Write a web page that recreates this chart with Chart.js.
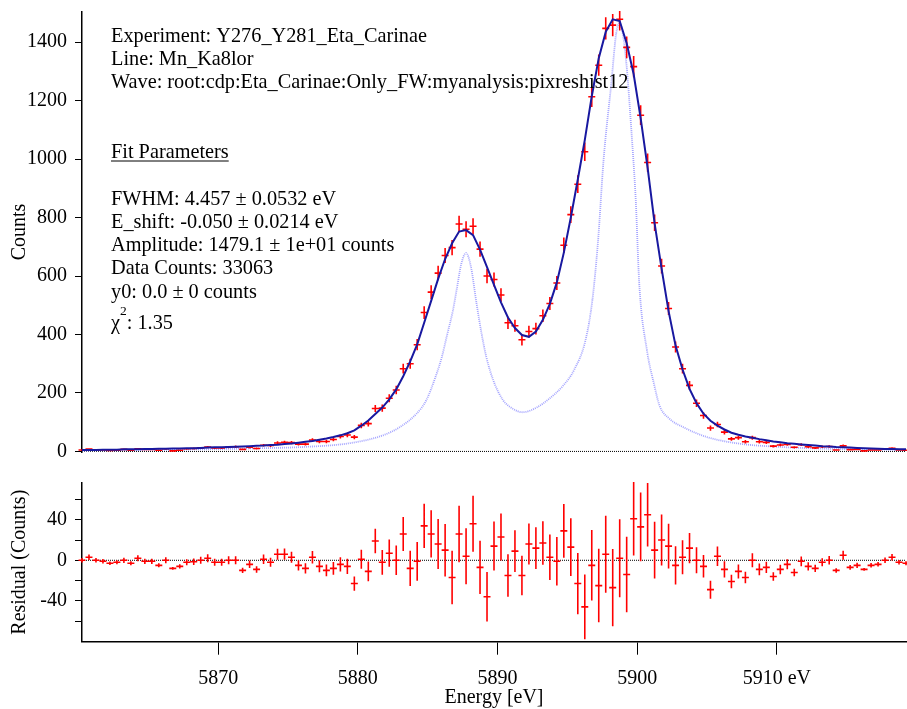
<!DOCTYPE html>
<html>
<head>
<meta charset="utf-8">
<script src="https://cdn.jsdelivr.net/npm/chart.js@4.4.1/dist/chart.umd.min.js"></script>
<style>
  html, body { margin: 0; padding: 0; background: #fff; }
  #wrap { position: relative; width: 907px; height: 709px; }
  #grafikUtama { position: absolute; left: 0; top: 0; }
  #grafikResidu { position: absolute; left: 0; top: 470px; }
</style>
</head>
<body>
<div id="wrap">
  <canvas id="grafikUtama" width="907" height="470"></canvas>
  <canvas id="grafikResidu" width="907" height="239"></canvas>
</div>
<script>
const energies = [
  5860.25, 5860.75, 5861.25, 5861.75, 5862.25, 5862.75, 5863.25, 5863.75, 5864.25, 5864.75,
  5865.25, 5865.75, 5866.25, 5866.75, 5867.25, 5867.75, 5868.25, 5868.75, 5869.25, 5869.75,
  5870.25, 5870.75, 5871.25, 5871.75, 5872.25, 5872.75, 5873.25, 5873.75, 5874.25, 5874.75,
  5875.25, 5875.75, 5876.25, 5876.75, 5877.25, 5877.75, 5878.25, 5878.75, 5879.25, 5879.75,
  5880.25, 5880.75, 5881.25, 5881.75, 5882.25, 5882.75, 5883.25, 5883.75, 5884.25, 5884.75,
  5885.25, 5885.75, 5886.25, 5886.75, 5887.25, 5887.75, 5888.25, 5888.75, 5889.25, 5889.75,
  5890.25, 5890.75, 5891.25, 5891.75, 5892.25, 5892.75, 5893.25, 5893.75, 5894.25, 5894.75,
  5895.25, 5895.75, 5896.25, 5896.75, 5897.25, 5897.75, 5898.25, 5898.75, 5899.25, 5899.75,
  5900.25, 5900.75, 5901.25, 5901.75, 5902.25, 5902.75, 5903.25, 5903.75, 5904.25, 5904.75,
  5905.25, 5905.75, 5906.25, 5906.75, 5907.25, 5907.75, 5908.25, 5908.75, 5909.25, 5909.75,
  5910.25, 5910.75, 5911.25, 5911.75, 5912.25, 5912.75, 5913.25, 5913.75, 5914.25, 5914.75,
  5915.25, 5915.75, 5916.25, 5916.75, 5917.25, 5917.75, 5918.25, 5918.75, 5919.25,
];
const counts = [
  5, 8, 5, 5, 3, 4, 7, 4, 9, 7,
  7, 4, 9, 2, 4, 9, 10, 12, 15, 12,
  12, 15, 16, 7, 14, 10, 21, 20, 29, 31,
  30, 25, 25, 39, 34, 34, 41, 51, 56, 49,
  89, 95, 147, 148, 182, 210, 283, 300, 365, 475,
  545, 610, 670, 697, 778, 760, 770, 692, 600, 588,
  535, 440, 430, 382, 410, 420, 464, 506, 576, 705,
  810, 914, 1025, 1213, 1321, 1447, 1458, 1478, 1382, 1316,
  1150, 988, 782, 634, 489, 357, 283, 226, 165, 123,
  80, 92, 66, 43, 47, 33, 47, 33, 31, 18,
  22, 24, 14, 23, 16, 12, 16, 17, 5, 19,
  6, 7, 2, 5, 5, 8, 11, 5, 4,
];
const countErrors = [
  2.2, 2.8, 2.2, 2.2, 1.7, 2, 2.6, 2, 3, 2.6,
  2.6, 2, 3, 1.4, 2, 3, 3.2, 3.5, 3.9, 3.5,
  3.5, 3.9, 4, 2.6, 3.7, 3.2, 4.6, 4.5, 5.4, 5.6,
  5.5, 5, 5, 6.2, 5.8, 5.8, 6.4, 7.1, 7.5, 7,
  9.4, 9.7, 12.1, 12.2, 13.5, 14.5, 16.8, 17.3, 19.1, 21.8,
  23.3, 24.7, 25.9, 26.4, 27.9, 27.6, 27.7, 26.3, 24.5, 24.2,
  23.1, 21, 20.7, 19.5, 20.2, 20.5, 21.5, 22.5, 24, 26.6,
  28.5, 30.2, 32, 34.8, 36.3, 38, 38.2, 38.4, 37.2, 36.3,
  33.9, 31.4, 28, 25.2, 22.1, 18.9, 16.8, 15, 12.8, 11.1,
  8.9, 9.6, 8.1, 6.6, 6.9, 5.7, 6.9, 5.7, 5.6, 4.2,
  4.7, 4.9, 3.7, 4.8, 4, 3.5, 4, 4.1, 2.2, 4.4,
  2.4, 2.6, 1.4, 2.2, 2.2, 2.8, 3.3, 2.2, 2,
];
const fitCounts = [
  5, 5, 5, 6, 6, 6, 7, 7, 7, 8,
  8, 9, 9, 10, 10, 11, 11, 12, 13, 14,
  14, 15, 16, 17, 18, 19, 20, 22, 23, 25,
  27, 30, 33, 36, 40, 44, 49, 55, 62, 72,
  88, 106, 128, 150, 178, 212, 257, 308, 366, 440,
  515, 590, 658, 712, 752, 757, 740, 690, 630, 570,
  510, 458, 422, 398, 392, 410, 450, 505, 578, 680,
  800, 930, 1065, 1215, 1345, 1435, 1478, 1472, 1396, 1290,
  1140, 970, 780, 625, 480, 362, 280, 214, 165, 129,
  105, 88, 75, 64, 57, 51, 47, 42, 38, 34,
  31, 28, 26, 24, 22, 20, 18, 17, 15, 14,
  13, 12, 11, 10, 9, 8, 8, 7, 7,
];
const residuals = [
  0, 3, 0, -1, -3, -2, 0, -3, 2, -1,
  -1, -5, 0, -8, -6, -2, -1.5, 0, 2, -2,
  -2, 0, 0, -10, -4, -9, 1, -2, 6, 6,
  3, -5, -8, 3, -6, -10, -8, -4, -6, -23,
  1, -11, 19, -2, 7, 0, 26, -8, -1, 34,
  26, 16, 10, -17, 26, 4, 36, -7, -36, 14,
  23, -15, 9, -15, 16, 12, 17, 3, -1, 29,
  13, -23, -46, -5, -25, 6, -27, 2, -14, 41,
  33, 45, 10, 20, 14, -5, 3, 12, 0, -6,
  -29, 4, -9, -21, -11, -17, 0, -9, -7, -16,
  -9, -4, -12, -1, -6, -8, -2, 0, -10, 5,
  -7, -5, -9, -5, -4, 0, 3, -2, -3,
];
const intrinsicEnergies = [
  5860.25, 5865, 5870, 5873, 5876, 5879.4, 5881.8, 5883.0, 5884.2, 5884.9,
  5885.6, 5886.0, 5886.4, 5886.8, 5887.1, 5887.4, 5887.75, 5888.1, 5888.5, 5888.86,
  5889.2, 5889.7, 5890.4, 5891.1, 5891.8, 5892.8, 5893.7, 5894.7, 5895.5, 5896.3,
  5896.8, 5897.2, 5897.6, 5898.15, 5898.5, 5898.75, 5899.0, 5899.25, 5899.6, 5899.9,
  5900.15, 5900.7, 5901.2, 5901.6, 5902.3, 5903.3, 5905.0, 5907.4, 5910, 5913,
  5916, 5919.25,
];
const intrinsicCounts = [
  3, 5, 8, 11, 15, 28, 55, 83, 129, 175,
  260, 320, 400, 480, 560, 640, 679, 631, 506, 403,
  323, 243, 175, 146, 134, 150, 180, 225, 280, 380,
  520, 720, 1000, 1259, 1430, 1466, 1420, 1316, 1088, 859,
  574, 346, 232, 157, 112, 83, 49, 26, 16, 10,
  7, 5,
];
const countTicks = [0, 200, 400, 600, 800, 1000, 1200, 1400];
const residualTicks = [-60, -40, -20, 0, 20, 40, 60];
const residualLabelled = [-40, 0, 40];
const energyTicks = [5870, 5880, 5890, 5900, 5910];
const energyTickLabels = ["5870", "5880", "5890", "5900", "5910 eV"];

const noteLines = [
  "Experiment: Y276_Y281_Eta_Carinae",
  "Line: Mn_Ka8lor",
  "Wave: root:cdp:Eta_Carinae:Only_FW:myanalysis:pixreshist12",
  "Fit Parameters",
  "FWHM: 4.457 \u00b1 0.0532 eV",
  "E_shift: -0.050 \u00b1 0.0214 eV",
  "Amplitude: 1479.1 \u00b1 1e+01 counts",
  "Data Counts: 33063",
  "y0: 0.0 \u00b1 0 counts",
];
const chiLabel = "\u03c7";
const chiValue = ": 1.35";

const X_MIN = 5860.25;
const X_MAX = 5919.25;
const SERIF = '"Liberation Serif", "Times New Roman", serif';

function toPoints(xs, ys) {
  return xs.map((x, i) => ({ x, y: ys[i] }));
}

// draws the red "+" marks with vertical error bars
const crossPlugin = {
  id: "crosses",
  afterDatasetDraw(chart, args) {
    const ds = chart.data.datasets[args.index];
    if (!ds.errors) return;
    const xs = chart.scales.x;
    const ys = chart.scales.y;
    const area = chart.chartArea;
    const ctx = chart.ctx;
    ctx.save();
    ctx.beginPath();
    ctx.rect(area.left - 4, area.top - 1, area.right - area.left + 8, area.bottom - area.top + 2);
    ctx.clip();
    ctx.strokeStyle = ds.borderColor;
    ctx.lineWidth = 1.6;
    ctx.beginPath();
    ds.data.forEach((p, i) => {
      const px = xs.getPixelForValue(p.x);
      const py = ys.getPixelForValue(p.y);
      const e = ds.errors[i];
      ctx.moveTo(px, ys.getPixelForValue(p.y - e));
      ctx.lineTo(px, ys.getPixelForValue(p.y + e));
      ctx.moveTo(xs.getPixelForValue(p.x - ds.xError), py);
      ctx.lineTo(xs.getPixelForValue(p.x + ds.xError), py);
    });
    ctx.stroke();
    ctx.restore();
  },
};

const notePlugin = {
  id: "notes",
  afterDraw(chart) {
    const ctx = chart.ctx;
    const left = 111;
    const baselines = [41.5, 65, 88, 158, 205, 228, 251, 274, 297.5];
    ctx.save();
    ctx.fillStyle = "#000";
    ctx.strokeStyle = "#000";
    ctx.font = "20.3px " + SERIF;
    ctx.textBaseline = "alphabetic";
    noteLines.forEach((t, i) => ctx.fillText(t, left, baselines[i]));
    // underline "Fit Parameters"
    const w = ctx.measureText(noteLines[3]).width;
    ctx.lineWidth = 1;
    ctx.beginPath();
    ctx.moveTo(left, 161);
    ctx.lineTo(left + w, 161);
    ctx.stroke();
    // chi squared
    const chiW = ctx.measureText(chiLabel).width;
    ctx.fillText(chiLabel, left, 329);
    ctx.font = "13.5px " + SERIF;
    ctx.fillText("2", left + chiW, 315);
    const twoW = ctx.measureText("2").width;
    ctx.font = "20.3px " + SERIF;
    ctx.fillText(chiValue, left + chiW + twoW, 329);
    ctx.restore();
  },
};

// keep the plot areas exactly where layout padding puts them
function fixWidth(scale) {
  scale.width = 82;
  scale.paddingTop = 0;
  scale.paddingBottom = 0;
}

const tickFont = { family: SERIF, size: 20 };
const titleFont = { family: SERIF, size: 20, lineHeight: 1.1 };

(function () {
  const canvas = document.querySelector("#grafikUtama");
  new Chart(canvas, {
    type: "line",
    data: {
      datasets: [
        {
          label: "Fit",
          data: toPoints(energies, fitCounts),
          borderColor: "#1818a0",
          borderWidth: 2,
          pointRadius: 0,
          tension: 0,
        },
        {
          label: "Data",
          data: toPoints(energies, counts),
          errors: countErrors,
          xError: 0.25,
          borderColor: "#ff0000",
          showLine: false,
          pointRadius: 0,
        },
        {
          label: "Intrinsic",
          data: toPoints(intrinsicEnergies, intrinsicCounts),
          borderColor: "#a4a4ff",
          borderWidth: 1.8,
          borderDash: [1, 1],
          pointRadius: 0,
          cubicInterpolationMode: "monotone",
        },
        {
          label: "Zero",
          data: [{ x: X_MIN, y: 0 }, { x: X_MAX, y: 0 }],
          borderColor: "#000",
          borderWidth: 1,
          borderDash: [1, 1],
          pointRadius: 0,
        },
      ],
    },
    options: {
      responsive: false,
      animation: false,
      layout: { padding: { top: 12, bottom: 18, left: 0, right: 1 } },
      plugins: { legend: { display: false }, tooltip: { enabled: false } },
      scales: {
        x: { type: "linear", min: X_MIN, max: X_MAX, display: false },
        y: {
          type: "linear",
          min: -2,
          max: 1503,
          afterFit: fixWidth,
          afterBuildTicks: (scale) => { scale.ticks = countTicks.map((v) => ({ value: v })); },
          ticks: { color: "#000", font: tickFont, padding: 8, autoSkip: false, callback: (v) => String(v) },
          grid: { drawOnChartArea: false, tickLength: 7, color: "#000", tickColor: "#000" },
          border: { display: true, color: "#000", width: 1.5 },
          title: { display: true, text: "Counts", color: "#000", font: titleFont, padding: { top: 9, bottom: 0 } },
        },
      },
    },
    plugins: [crossPlugin, notePlugin],
  });
})();

(function () {
  const canvas = document.querySelector("#grafikResidu");
  new Chart(canvas, {
    type: "line",
    data: {
      datasets: [
        {
          label: "Residual",
          data: toPoints(energies, residuals),
          errors: countErrors,
          xError: 0.25,
          borderColor: "#ff0000",
          showLine: false,
          pointRadius: 0,
        },
        {
          label: "Zero",
          data: [{ x: X_MIN, y: 0 }, { x: X_MAX, y: 0 }],
          borderColor: "#000",
          borderWidth: 1,
          borderDash: [1, 1],
          pointRadius: 0,
        },
      ],
    },
    options: {
      responsive: false,
      animation: false,
      layout: { padding: { top: 12.7, bottom: 0, left: 0, right: 1 } },
      plugins: { legend: { display: false }, tooltip: { enabled: false } },
      scales: {
        x: {
          type: "linear",
          min: X_MIN,
          max: X_MAX,
          afterFit: (scale) => {
            scale.height = 67.3;
            scale.paddingLeft = 0;
            scale.paddingRight = 0;
          },
          afterBuildTicks: (scale) => { scale.ticks = energyTicks.map((v) => ({ value: v })); },
          ticks: {
            color: "#000",
            font: tickFont,
            padding: 12,
            autoSkip: false,
            maxRotation: 0,
            callback: (v) => energyTickLabels[energyTicks.indexOf(v)],
          },
          grid: { drawOnChartArea: false, tickLength: 13, color: "#000", tickColor: "#000" },
          border: { display: true, color: "#000", width: 1.5 },
          title: { display: true, text: "Energy [eV]", color: "#000", font: titleFont, padding: 0 },
        },
        y: {
          type: "linear",
          min: -80.4,
          max: 76.6,
          afterFit: fixWidth,
          afterBuildTicks: (scale) => { scale.ticks = residualTicks.map((v) => ({ value: v })); },
          ticks: {
            color: "#000",
            font: tickFont,
            padding: 8,
            autoSkip: false,
            callback: (v) => (residualLabelled.includes(v) ? String(v) : ""),
          },
          grid: { drawOnChartArea: false, tickLength: 7, color: "#000", tickColor: "#000" },
          border: { display: true, color: "#000", width: 1.5 },
          title: { display: true, text: "Residual (Counts)", color: "#000", font: titleFont, padding: { top: 9, bottom: 0 } },
        },
      },
    },
    plugins: [crossPlugin],
  });
})();
</script>
</body>
</html>
